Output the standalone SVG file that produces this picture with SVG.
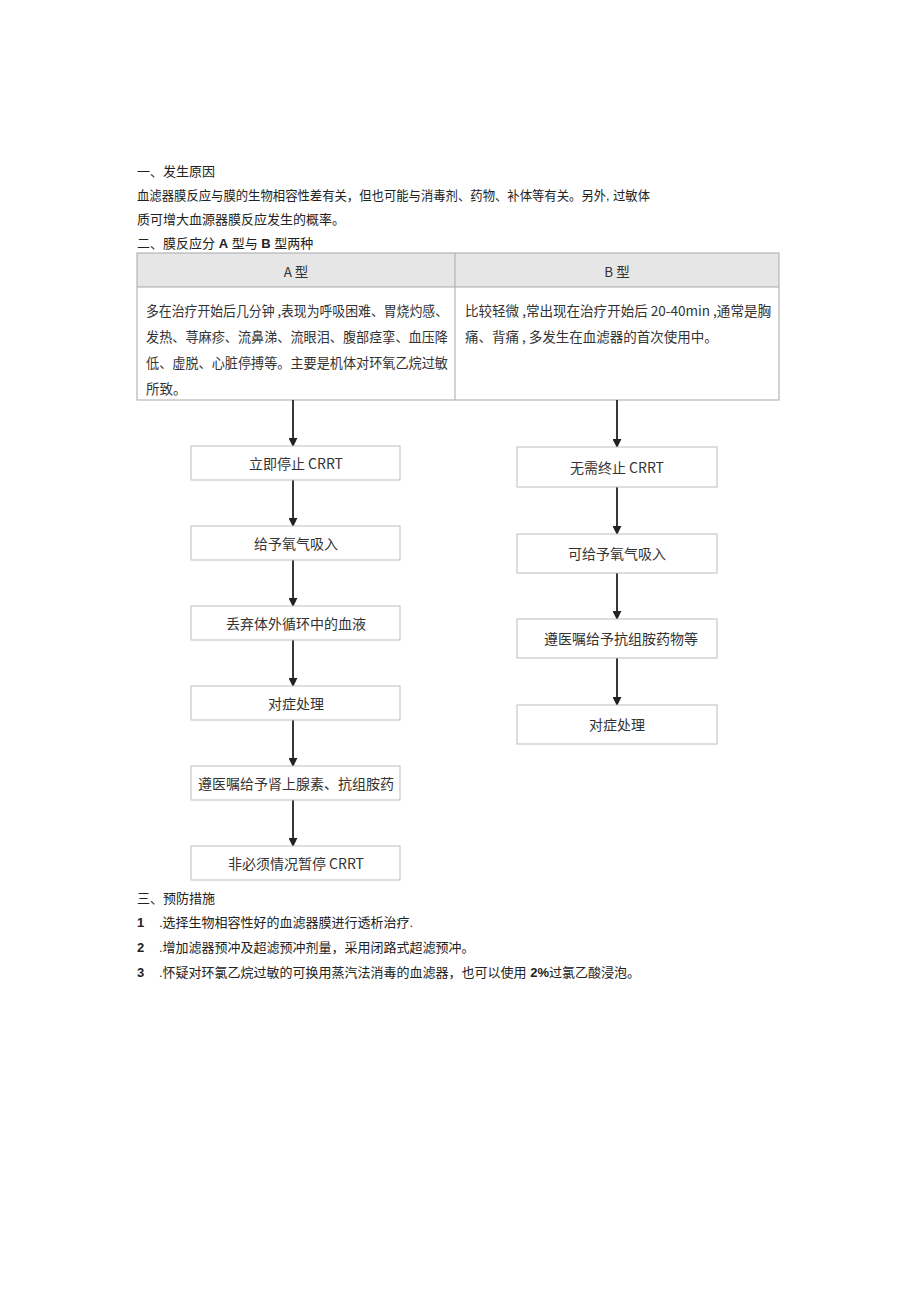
<svg xmlns="http://www.w3.org/2000/svg" width="920" height="1301" viewBox="0 0 920 1301">
<defs>
<style>
.t{font-family:"Liberation Sans","Noto Sans CJK SC",sans-serif;font-size:13px;fill:#222}
.b{font-weight:bold}
.c{font-family:"Noto Sans CJK SC",sans-serif;font-size:13.5px;fill:#333}
.n{font-size:14px}
.m{text-anchor:middle}
.box{fill:#fff;stroke:#bdbdbd;stroke-width:1}
.tb{fill:none;stroke:#a8a8a8;stroke-width:1}
.ar{stroke:#222;stroke-width:1.8;fill:none;marker-end:url(#ah)}
</style>
<marker id="ah" viewBox="0 0 10 10" refX="9" refY="5" markerWidth="9" markerHeight="9" markerUnits="userSpaceOnUse" orient="auto"><path d="M0,0 L10,5 L0,10 z" fill="#222"/></marker>
</defs>
<rect width="920" height="1301" fill="#fff"/>
<g id="intro">
<text class="t" x="137" y="176">一、发生原因</text>
<text class="t" x="137" y="200" textLength="513" lengthAdjust="spacingAndGlyphs">血滤器膜反应与膜的生物相容性差有关，但也可能与消毒剂、药物、补体等有关。另外, 过敏体</text>
<text class="t" x="137" y="224">质可增大血源器膜反应发生的概率。</text>
<text class="t" x="137" y="248">二、膜反应分 <tspan class="b">A</tspan> 型与 <tspan class="b">B</tspan> 型两种</text>
</g>
<g id="table">
<rect x="137" y="253" width="642" height="34" fill="#e6e6e6"/>
<rect x="137" y="253" width="642" height="147" class="tb"/>
<line x1="137" y1="287" x2="779" y2="287" class="tb"/>
<line x1="455" y1="253" x2="455" y2="400" class="tb"/>
<text class="c m" x="296" y="277">A 型</text>
<text class="c m" x="617" y="277">B 型</text>
<text class="c" x="146" y="316" textLength="302" lengthAdjust="spacingAndGlyphs">多在治疗开始后几分钟 ,表现为呼吸困难、胃烧灼感、</text>
<text class="c" x="146" y="342" textLength="302" lengthAdjust="spacingAndGlyphs">发热、荨麻疹、流鼻涕、流眼泪、腹部痉挛、血压降</text>
<text class="c" x="146" y="368" textLength="302" lengthAdjust="spacingAndGlyphs">低、虚脱、心脏停搏等。主要是机体对环氧乙烷过敏</text>
<text class="c" x="146" y="394">所致。</text>
<text class="c" x="465" y="316" textLength="306" lengthAdjust="spacingAndGlyphs">比较轻微 ,常出现在治疗开始后 20-40min ,通常是胸</text>
<text class="c" x="465" y="342">痛、背痛 , 多发生在血滤器的首次使用中。</text>
</g>
<g id="connectors">
<line x1="293" y1="400" x2="293" y2="446" class="ar"/>
<line x1="293" y1="480" x2="293" y2="526" class="ar"/>
<line x1="293" y1="560" x2="293" y2="606" class="ar"/>
<line x1="293" y1="640" x2="293" y2="686" class="ar"/>
<line x1="293" y1="720" x2="293" y2="766" class="ar"/>
<line x1="293" y1="800" x2="293" y2="846" class="ar"/>
<line x1="617" y1="400" x2="617" y2="447" class="ar"/>
<line x1="617" y1="487" x2="617" y2="534" class="ar"/>
<line x1="617" y1="573" x2="617" y2="619" class="ar"/>
<line x1="617" y1="658" x2="617" y2="705" class="ar"/>
</g>
<g id="a1"><rect class="box" x="191" y="446" width="209" height="34"/><text class="c n m" x="296" y="469">立即停止 CRRT</text></g>
<g id="a2"><rect class="box" x="191" y="526" width="209" height="34"/><text class="c n m" x="296" y="549">给予氧气吸入</text></g>
<g id="a3"><rect class="box" x="191" y="606" width="209" height="34"/><text class="c n m" x="296" y="629">丢弃体外循环中的血液</text></g>
<g id="a4"><rect class="box" x="191" y="686" width="209" height="34"/><text class="c n m" x="296" y="709">对症处理</text></g>
<g id="a5"><rect class="box" x="191" y="766" width="209" height="34"/><text class="c n m" x="296" y="789">遵医嘱给予肾上腺素、抗组胺药</text></g>
<g id="a6"><rect class="box" x="191" y="846" width="209" height="34"/><text class="c n m" x="296" y="869">非必须情况暂停 CRRT</text></g>
<g id="b1"><rect class="box" x="517" y="447" width="200" height="40"/><text class="c n m" x="617" y="473">无需终止 CRRT</text></g>
<g id="b2"><rect class="box" x="517" y="534" width="200" height="39"/><text class="c n m" x="617" y="559">可给予氧气吸入</text></g>
<g id="b3"><rect class="box" x="517" y="619" width="200" height="39"/><text class="c n m" x="621" y="644">遵医嘱给予抗组胺药物等</text></g>
<g id="b4"><rect class="box" x="517" y="705" width="200" height="39"/><text class="c n m" x="617" y="730">对症处理</text></g>
<g id="prevention">
<text class="t" x="137" y="903">三、预防措施</text>
<text class="t b" x="137" y="927">1</text>
<text class="t" x="159" y="927">.选择生物相容性好的血滤器膜进行透析治疗.</text>
<text class="t b" x="137" y="952">2</text>
<text class="t" x="159" y="952">.增加滤器预冲及超滤预冲剂量，采用闭路式超滤预冲。</text>
<text class="t b" x="137" y="977">3</text>
<text class="t" x="159" y="977">.怀疑对环氯乙烷过敏的可换用蒸汽法消毒的血滤器，也可以使用 <tspan class="b">2%</tspan>过氯乙酸浸泡。</text>
</g>
</svg>
